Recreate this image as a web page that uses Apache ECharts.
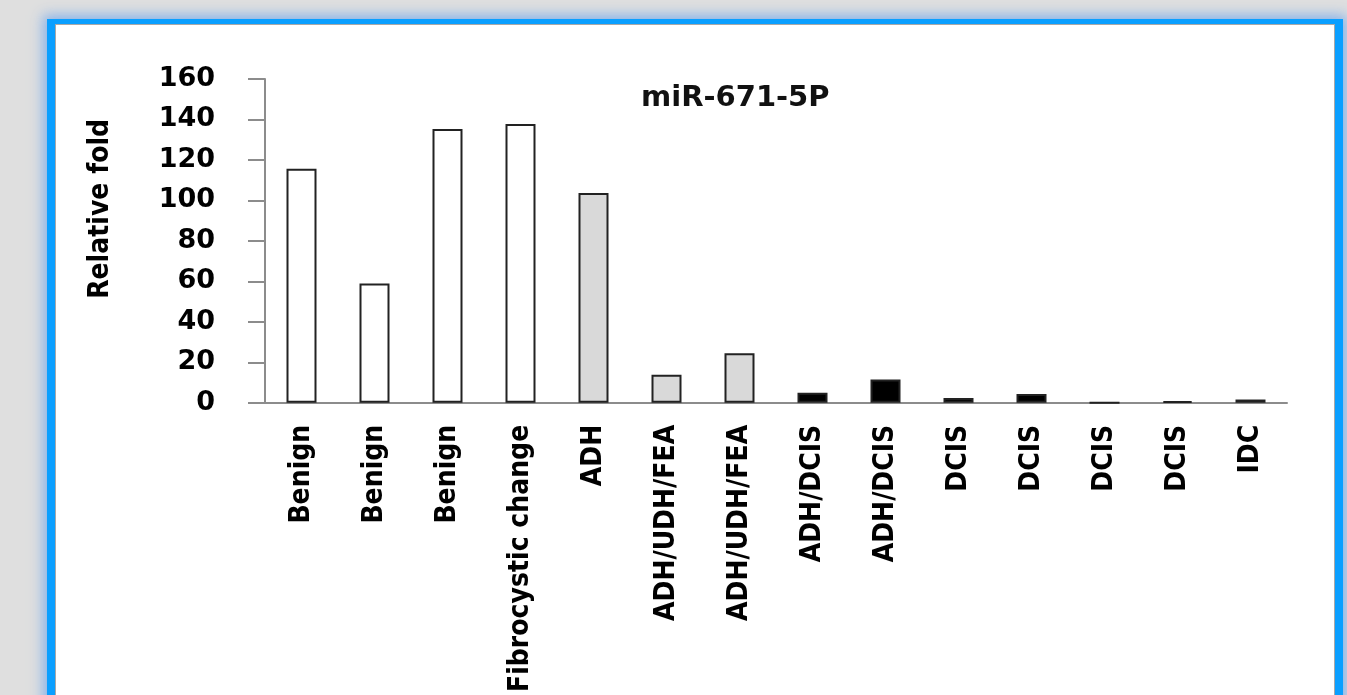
<!DOCTYPE html>
<html>
<head>
<meta charset="utf-8">
<script src="https://cdn.jsdelivr.net/npm/echarts@6/dist/echarts.min.js"></script>
<style>
  html, body { margin:0; padding:0; width:1347px; height:695px; overflow:hidden; background:#dfdfdf; }
  #frame { position:absolute; left:47px; top:19px; width:1296px; height:720px; box-sizing:border-box;
           border-style:solid; border-color:#0a9fff; border-width:5px 8px 0 8px; background:#fff;
           box-shadow: 0 0 12px 4px rgba(120,170,235,0.85), inset 0 0 0 1px #a8a8a8; }
  #chart { position:absolute; left:0; top:0; width:1347px; height:695px; }
</style>
</head>
<body>
<div id="frame"></div>
<div id="chart"></div>
<script>
// ---- data ----
const categories = ["Benign","Benign","Benign","Fibrocystic change","ADH","ADH/UDH/FEA","ADH/UDH/FEA","ADH/DCIS","ADH/DCIS","DCIS","DCIS","DCIS","DCIS","IDC"];
const relativeFold = [115.7, 58.9, 135.3, 137.8, 103.7, 13.8, 24.5, 4.9, 11.5, 2.3, 4.3, 0, 0.8, 1.6];
const groups = ["benign","benign","benign","benign","atypia","atypia","atypia","malignant","malignant","malignant","malignant","malignant","malignant","malignant"];
const yTicks = [0, 20, 40, 60, 80, 100, 120, 140, 160];
const titleText = "miR-671-5P";
const yAxisName = "Relative fold";

// ---- styles ----
const groupFill = { benign:"#ffffff", atypia:"#d9d9d9", malignant:"#000000" };
const narrowFont = '"DejaVu Sans Condensed", "Liberation Sans Narrow", "DejaVu Sans"';

const chart = echarts.init(document.getElementById('chart'), null, {renderer:'canvas'});
const option = {
  backgroundColor: 'transparent',
  animation: false,
  title: {
    text: titleText, left: 636, top: 79,
    textStyle: { fontFamily: 'DejaVu Sans', fontWeight: 'bold', fontSize: 29, color: '#111' }
  },
  grid: { left: 265, right: 60, top: 79, bottom: 291, containLabel: false },
  xAxis: {
    type: 'category', data: categories,
    axisLine: { show: true, lineStyle: { color: '#8c8c8c', width: 2 } },
    axisTick: { show: false },
    axisLabel: { rotate: 90, interval: 0, margin: 22, color: '#000',
                 fontFamily: narrowFont, fontWeight: 'bold', fontSize: 28 }
  },
  yAxis: {
    type: 'value', min: yTicks[0], max: yTicks[yTicks.length-1], interval: 20,
    name: yAxisName, nameLocation: 'middle', nameGap: 150, nameRotate: 90,
    nameTextStyle: { fontFamily: narrowFont, fontWeight: 'bold', fontSize: 28, color: '#000',
                     padding: [0, 0, 0, 64] },
    axisLine: { show: true, lineStyle: { color: '#8c8c8c', width: 2 } },
    axisTick: { show: true, inside: false, length: 17, lineStyle: { color: '#8c8c8c', width: 2 } },
    splitLine: { show: false },
    axisLabel: { margin: 50, color: '#000', fontFamily: 'DejaVu Sans', fontWeight: 'bold', fontSize: 27 }
  },
  series: [{
    type: 'bar', barWidth: 30,
    data: relativeFold.map((v, i) => ({
      value: v,
      itemStyle: { color: groupFill[groups[i]], borderColor: '#222', borderWidth: 2 }
    }))
  }]
};
chart.setOption(option);
</script>
</body>
</html>
